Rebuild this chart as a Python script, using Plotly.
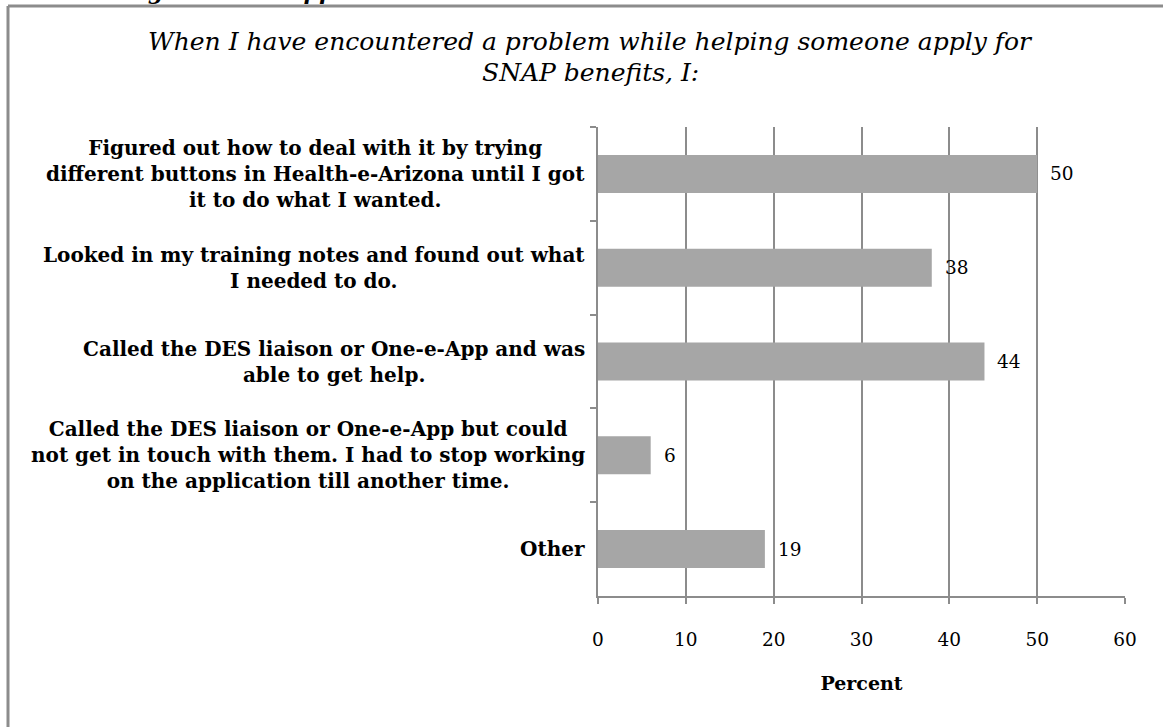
#!/usr/bin/env python3
"""Horizontal bar chart: problems encountered while helping someone apply for SNAP."""
import plotly.graph_objects as go

CATEGORIES = [
    "Figured out how to deal with it by trying<br>different buttons in Health-e-Arizona until I got<br>it to do what I wanted.",
    "Looked in my training notes and found out what<br>I needed to do.",
    "Called the DES liaison or One-e-App and was<br>able to get help.",
    "Called the DES liaison or One-e-App but could<br>not get in touch with them. I had to stop working<br>on the application till another time.",
    "Other",
]
PERCENT = [50, 38, 44, 6, 19]
X_TICKS = [0, 10, 20, 30, 40, 50, 60]

TITLE_LINES = [
    "When I have encountered a problem while helping someone apply for",
    "SNAP benefits, I:",
]
X_TITLE = "Percent"

_W, _H = 1163, 727
# plot area in page pixels
_PX0, _PX1, _PY0, _PY1 = 598, 1125, 127, 596
_L, _R, _T, _B = _PX0, _W - _PX1, _PY0, _H - _PY1
_FONT = "DejaVu Serif"
_BAR = "#a6a6a6"
_GRID = "#8c8c8c"

PW, PH = _PX1 - _PX0, _PY1 - _PY0


def px_x(px):
    return (px - _PX0) / PW


def px_y(py):
    return (_PY1 - py) / PH


fig = go.Figure()
fig.add_trace(go.Bar(
    x=PERCENT, y=CATEGORIES, orientation="h",
    marker=dict(color=_BAR, line=dict(width=0)),
    hoverinfo="x+y",
))

# category labels, centered lines like the original
for cat in CATEGORIES:
    fig.add_annotation(
        x=0, xref="paper", y=cat, yref="y",
        xanchor="right", yanchor="middle", align="center", xshift=-11,
        text=f"<b>{cat}</b>", showarrow=False,
        font=dict(family=_FONT, size=20, color="black"),
    )

# value labels
for cat, v in zip(CATEGORIES, PERCENT):
    fig.add_annotation(
        x=v, xref="x", y=cat, yref="y",
        xanchor="left", yanchor="middle", xshift=11,
        text=str(v), showarrow=False,
        font=dict(family=_FONT, size=18.5, color="black"),
    )

# title, one annotation per line to keep the tight line spacing
for line, yc in zip(TITLE_LINES, [42, 72]):
    fig.add_annotation(
        x=px_x(590), xref="paper", y=px_y(yc), yref="paper",
        xanchor="center", yanchor="middle",
        text=f"<i>{line}</i>", showarrow=False,
        font=dict(family=_FONT, size=25, color="black"),
    )

# cut-off heading above the frame (only descenders show, as in the source)
fig.add_annotation(
    x=px_x(90), xref="paper", y=px_y(6), yref="paper",
    xanchor="left", yanchor="bottom",
    text="<b><i>Using Health-e-Applications</i></b>", showarrow=False,
    font=dict(family=_FONT, size=22, color="black"),
)

# page frame (left + top edges)
fig.add_shape(type="line", xref="paper", yref="paper",
              x0=px_x(8), x1=px_x(8), y0=px_y(6), y1=px_y(740),
              line=dict(color=_GRID, width=3))
fig.add_shape(type="line", xref="paper", yref="paper",
              x0=px_x(8), x1=px_x(1180), y0=px_y(6), y1=px_y(6),
              line=dict(color=_GRID, width=3))

fig.update_layout(
    width=_W, height=_H,
    margin=dict(l=_L, r=_R, t=_T, b=_B, autoexpand=False),
    paper_bgcolor="white", plot_bgcolor="white",
    bargap=0.595, showlegend=False,
    font=dict(family=_FONT, color="black"),
    xaxis=dict(
        range=[0, 60], tickvals=X_TICKS, ticktext=[str(t) for t in X_TICKS],
        showgrid=True, gridcolor=_GRID, gridwidth=1.5,
        showline=True, linecolor=_GRID, linewidth=1.5,
        ticks="outside", ticklen=6, tickcolor=_GRID, tickwidth=1.5,
        ticklabelstandoff=20,
        tickfont=dict(family=_FONT, size=18.5, color="black"),
        zeroline=False, fixedrange=True,
        title=dict(text=f"<b>{X_TITLE}</b>", standoff=28,
                   font=dict(family=_FONT, size=19, color="black")),
    ),
    yaxis=dict(
        categoryorder="array", categoryarray=CATEGORIES, autorange="reversed",
        showticklabels=False, showgrid=False, zeroline=False,
        showline=True, linecolor=_GRID, linewidth=1.5,
        ticks="outside", ticklen=6, tickcolor=_GRID, tickwidth=1.5,
        tickson="boundaries", fixedrange=True,
    ),
)

# drop the default 8px body margin so the figure fills the window exactly
fig.write_html("out.html", config={"displayModeBar": False},
               post_script="document.body.style.margin='0px';")
